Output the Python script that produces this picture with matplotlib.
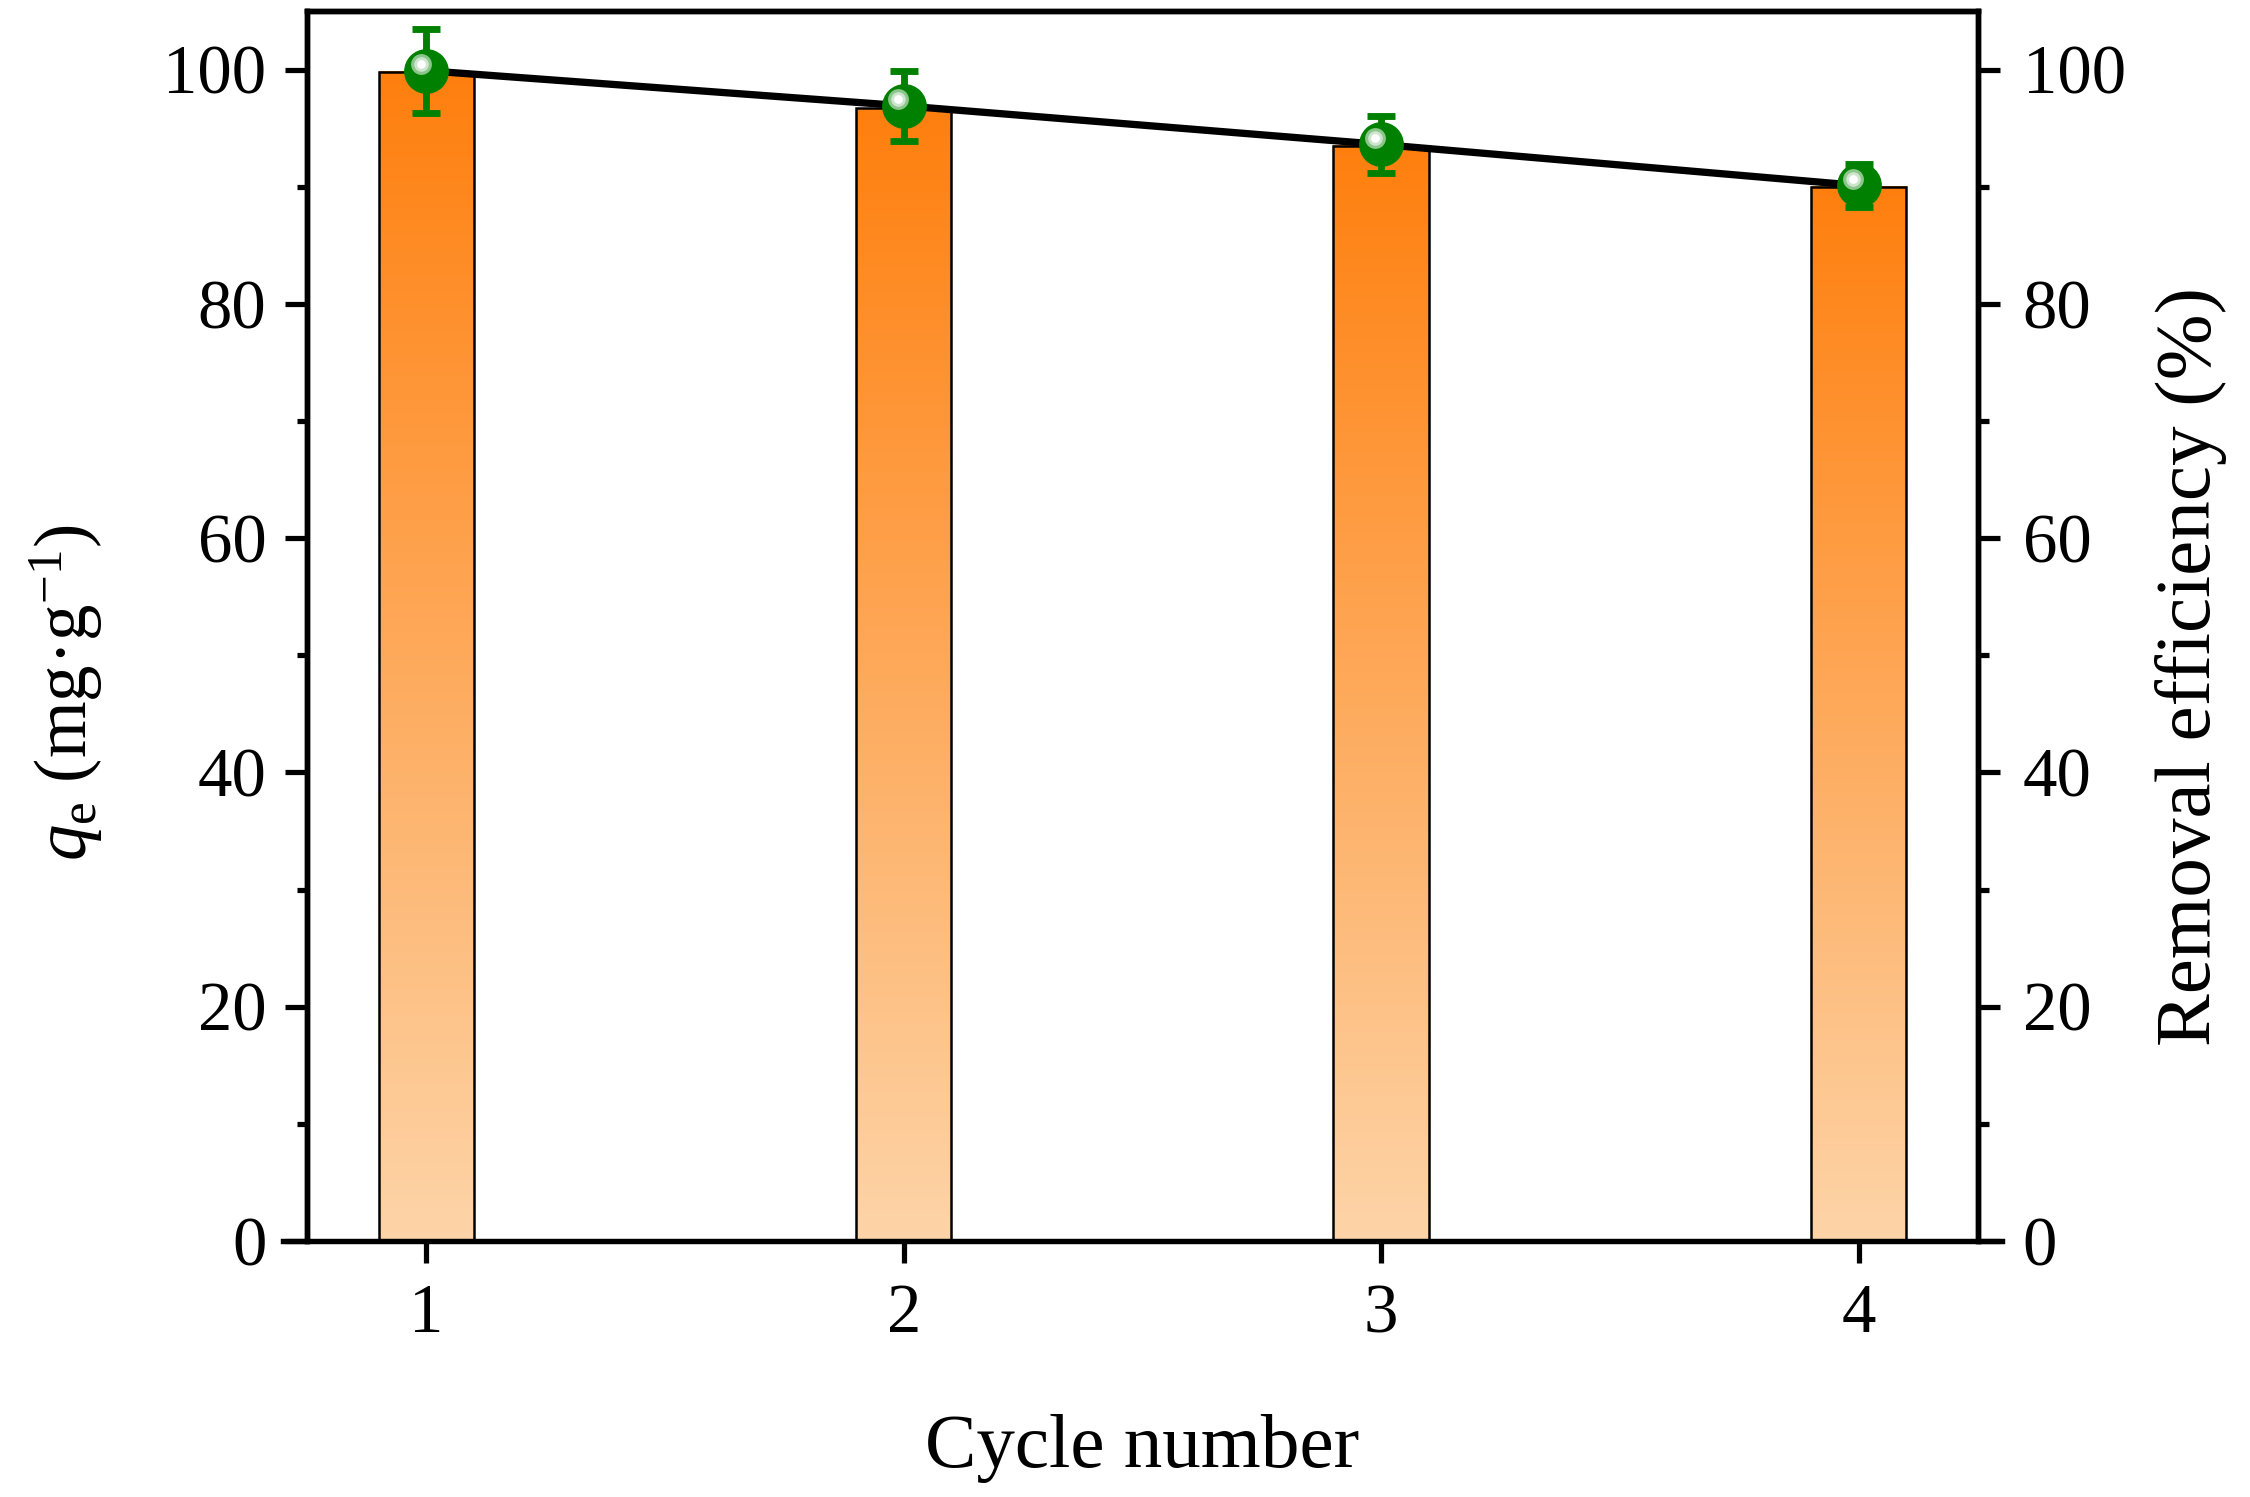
import matplotlib
matplotlib.use('Agg')
import matplotlib.pyplot as plt
import numpy as np
from matplotlib.colors import LinearSegmentedColormap
from matplotlib.transforms import offset_copy

plt.rcParams['font.family'] = ['Liberation Serif', 'DejaVu Serif']
plt.rcParams['mathtext.fontset'] = 'custom'
plt.rcParams['mathtext.rm'] = 'Liberation Serif'
plt.rcParams['mathtext.it'] = 'Liberation Serif:italic'

# data
cycles = [1, 2, 3, 4]
qe = [99.8, 96.7, 93.5, 90.0]
removal = [99.9, 96.9, 93.6, 90.1]
removal_err = [3.6, 3.0, 2.45, 1.8]
yticks = [0, 20, 40, 60, 80, 100]

fig = plt.figure(figsize=(15, 9.98), dpi=150)
ax = fig.add_axes([0.1364, 0.1710, 0.7427, 0.8217])
ax2 = ax.twinx()

# gradient-filled bars
grad = LinearSegmentedColormap.from_list('grad', ['#FDD4A8', '#FF7F0E'])
bars = ax.bar(cycles, qe, width=0.2, facecolor='none', edgecolor='black', linewidth=1.2, zorder=3)
g = np.linspace(0, 1, 256).reshape(-1, 1)
for b in bars:
    x0, w, h = b.get_x(), b.get_width(), b.get_height()
    ax.imshow(g, extent=(x0, x0 + w, 0, h), origin='lower', aspect='auto', cmap=grad, zorder=2)

ax.set_xlim(0.75, 4.25)
ax.set_ylim(0, 105)
ax2.set_ylim(0, 105)

# removal efficiency line + markers
ax2.plot(cycles, removal, color='black', linewidth=3.5, zorder=2)
ax2.errorbar(cycles, removal, yerr=removal_err, fmt='o', ms=20.5, color='#008000', mec='#008000',
             ecolor='#008000', elinewidth=3.3, capsize=6.5, capthick=3.3, zorder=3)
for ms, c in [(10, '#8cc68c'), (7, '#cde6cd'), (4.2, 'white')]:
    tr = offset_copy(ax2.transData, fig=fig, x=-5.7 / 150, y=6.7 / 150, units='inches')
    ax2.plot(cycles, removal, 'o', ms=ms, color=c, mec='none', transform=tr, zorder=4)

# axes styling
for a in (ax, ax2):
    for s in a.spines.values():
        s.set_linewidth(2.6)
ax.spines['bottom'].set_bounds(0.70, 4.30)
ax2.spines['bottom'].set_visible(False)

ax.set_xticks(cycles)
ax.set_yticks(yticks)
ax.set_yticks([10, 30, 50, 70, 90], minor=True)
ax2.set_yticks(yticks)
ax2.set_yticks([10, 30, 50, 70, 90], minor=True)
ax.tick_params(axis='both', which='major', direction='out', length=10.5, width=2.5, labelsize=33, pad=9)
ax.tick_params(axis='y', which='minor', direction='out', length=5, width=2.5)
ax.tick_params(axis='x', pad=10)
ax.tick_params(axis='y', right=False)
ax2.tick_params(axis='y', which='major', direction='out', length=10.5, width=2.5, labelsize=33, pad=11)
ax2.tick_params(axis='y', which='minor', direction='out', length=5.5, width=2.5)

ax.set_xlabel('Cycle number', fontsize=37, labelpad=32)
ax.set_ylabel(r'$q_\mathrm{e}$ (mg·g$^{-1}$)', fontsize=35, labelpad=28, y=0.446)
ax2.set_ylabel('Removal efficiency (%)', fontsize=38, labelpad=14, y=0.467)

fig.savefig('out.png', dpi=150)
plt.close(fig)
